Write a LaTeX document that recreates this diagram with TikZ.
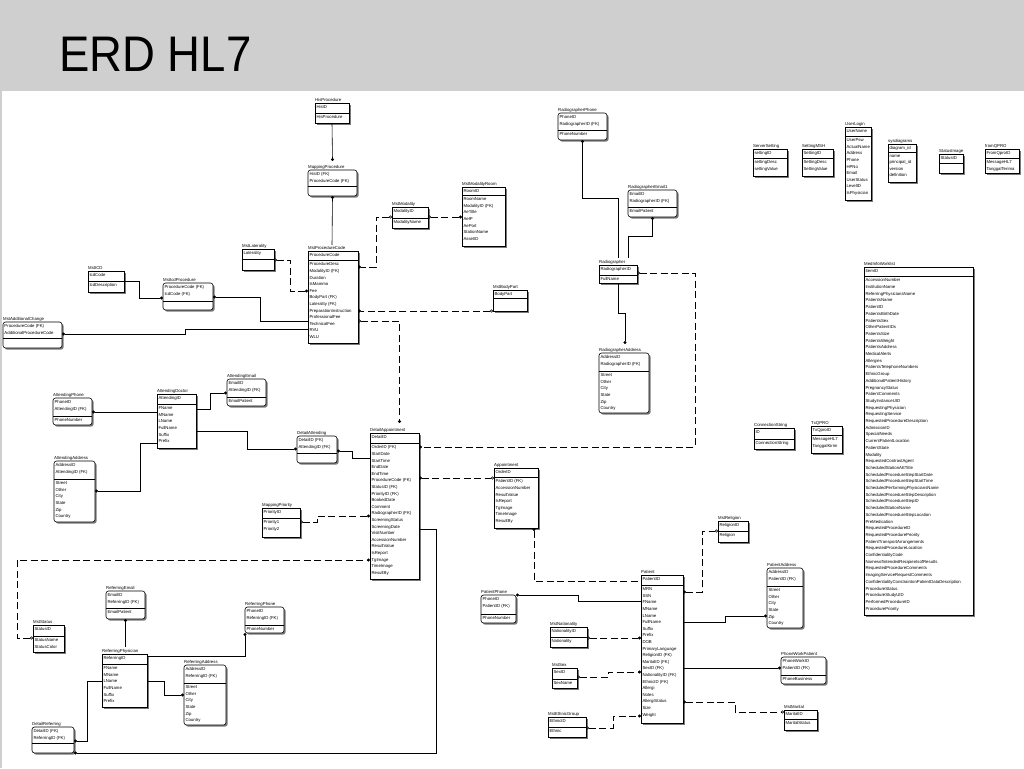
\documentclass[tikz,border=0pt]{standalone}
\usepackage{fontspec}
\setmainfont{Liberation Sans}
\usepackage{tikz}
\usetikzlibrary{calc}
\usetikzlibrary{shadows}
\usetikzlibrary{arrows.meta}
\definecolor{headgray}{RGB}{207,207,207}
\newcommand{\fieldskip}{6.6}
% entity: style, name, x, y, width, height, key height, key fields, other fields
\newcommand{\entity}[9]{%
  \node [#1, minimum width=#5pt, minimum height=#6pt] (#2) at (#3,#4) {};%
  \node [enttitle] at ($(#2.north west)+(0,-1.5)$) {#2};%
  \node [fields] at (#2.north west) {#8};%
  \draw [line width=0.6pt] ($(#2.north west)+(0,#7)$) -- ($(#2.north east)+(0,#7)$);%
  \node [fields] at ($(#2.north west)+(0,#7)$) {#9};%
}

\begin{document}
\begin{tikzpicture}[x=1pt, y=-1pt,
    ent/.style={draw, fill=white, anchor=north west, line width=0.6pt, inner sep=0pt, outer sep=0pt,
      drop shadow={shadow xshift=1.6pt, shadow yshift=-1.6pt, fill=black!65, opacity=0.8}},
    dep/.style={ent, rounded corners=2.5pt},
    enttitle/.style={anchor=base west, inner sep=0pt, font=\fontsize{4.3}{5}\selectfont},
    fields/.style={anchor=north west, inner xsep=1.3pt, inner ysep=2.5pt, align=left,
      font=\fontsize{4.3}{\fieldskip}\selectfont},
    idrel/.style={draw, line width=0.6pt},
    nrel/.style={idrel, dash pattern=on 7pt off 3.5pt},
    fdot/.tip={Circle[length=3pt]},
    hdot/.tip={Circle[open, length=3pt]}]
  % page and header
  \useasboundingbox (0,0) rectangle (1024,768);
  \fill [white] (0,0) rectangle (1024,768);
  \fill [headgray] (0,0) rectangle (1024,91);
  \fill [headgray] (0,91) rectangle (2,768);
  \node [anchor=base west, inner sep=0pt, font=\fontsize{50}{60}\selectfont] (title) at (59,71) {\scalebox{0.91}[1]{ERD HL7}};

  % Procedure entities
  \entity{ent}{HisProcedure}{315}{103}{34}{20}{10}{HisID}{HisProcedure}
  \entity{dep}{MappingProcedure}{308}{170}{49}{26}{16}{HisID (FK)\\ProcedureCode (FK)}{}
  \entity{ent}{MstProcedureCode}{308}{251}{50}{92}{9}{ProcedureCode}{ProcedureDesc\\ModalityID (FK)\\Duration\\IsMammo\\Fee\\BodyPart (FK)\\Laterality (FK)\\PreparationInstruction\\ProfessionalFee\\TechnicalFee\\RVU\\WLU}
  \entity{ent}{MstModality}{392}{207}{36}{21}{11}{ModalityID}{ModalityName}
  \entity{ent}{MstModalityRoom}{462}{187}{43}{59}{8}{RoomID}{RoomName\\ModalityID (FK)\\AeTitle\\AeIP\\AePort\\StationName\\AssetID}
  \entity{ent}{MstLaterality}{242}{249}{32}{21}{10}{Laterality}{}
  \entity{ent}{MstICD}{88}{271}{36}{21}{10}{IcdCode}{IcdDescription}
  \entity{dep}{MstIcdProcedure}{163}{283}{50}{27}{18}{ProcedureCode (FK)\\IcdCode (FK)}{}
  \entity{dep}{MstAdditionalChange}{3}{322}{59}{26}{16}{ProcedureCode (FK)\\AdditionalProcedureCode}{}
  \entity{ent}{MstBodyPart}{493}{290}{34}{21}{8}{BodyPart}{}

  % Radiographer entities
  \entity{dep}{RadiographerPhone}{558}{113}{49}{27}{17}{PhoneID\\RadiographerID (FK)}{PhoneNumber}
  \entity{dep}{RadiographerEmail1}{628}{190}{49}{27}{17}{EmailID\\RadiographerID (FK)}{EmailPatient}
  \entity{ent}{Radiographer}{599}{265}{38}{18}{10}{RadiographerID}{FullName}
  \entity{dep}{RadiographerAddress}{599}{353}{50}{60}{18}{AddressID\\RadiographerID (FK)}{Street\\Other\\City\\State\\Zip\\Country}

  % Stand-alone tables
  \entity{ent}{ServerSetting}{753}{149}{34}{27}{9}{settingID}{settingDesc\\settingValue}
  \entity{ent}{SettingMSH}{802}{149}{31}{27}{9}{SettingID}{SettingDesc\\SettingValue}
  \entity{ent}{UserLogin}{845}{127}{26}{73}{9}{UserName}{UserPsw\\ActualName\\Address\\Phone\\HPNo\\Email\\UserStatus\\LevelID\\IsPhysician}
  \entity{ent}{sysdiagrams}{888}{144}{28}{38}{8}{diagram\_id}{name\\principal\_id\\version\\definition}
  \entity{ent}{StatusImage}{939}{154}{24}{19}{9}{StatusID}{}
  \entity{ent}{fromQPRO}{985}{149}{34}{24}{9}{FromQproID}{MessageHL7\\TanggalTerima}
  \entity{ent}{ConnectionString}{754}{428}{40}{21}{11}{ID}{ConnectionString}
  \entity{ent}{TxQPRO}{811}{426}{31}{27}{9}{TxQproID}{MessageHL7\\TanggalKirim}

  % Attending entities
  \entity{dep}{AttendingPhone}{53}{398}{39}{27}{18}{PhoneID\\AttendingID (FK)}{PhoneNumber}
  \entity{dep}{AttendingAddress}{54}{461}{41}{61}{18}{AddressID\\AttendingID (FK)}{Street\\Other\\City\\State\\Zip\\Country}
  \entity{ent}{AttendingDoctor}{157}{394}{39}{54}{10}{AttendingID}{FName\\MName\\LName\\FullName\\Suffix\\Prefix}
  \entity{dep}{AttendingEmail}{227}{379}{39}{27}{18}{EmailID\\AttendingID (FK)}{EmailPatient}
  \entity{dep}{DetailAttending}{297}{436}{40}{27}{17}{DetailID (FK)\\AttendingID (FK)}{}

  % Appointment entities
  \entity{ent}{MappingPriority}{262}{508}{38}{29}{10}{PriorityID}{Priority1\\Priority2}
  \entity{ent}{DetailAppointment}{370}{433}{49}{146}{10}{DetailID}{OrderID (FK)\\StartDate\\StartTime\\EndDate\\EndTime\\ProcedureCode (FK)\\StatusID (FK)\\PriorityID (FK)\\BookedDate\\Comment\\RadiographerID (FK)\\ScreeningStatus\\ScreeningDate\\VisitNumber\\AccessionNumber\\ResultValue\\IsReport\\TgImage\\TimeImage\\ResultBy}
  \entity{ent}{Appointment}{494}{468}{44}{60}{9}{OrderID}{PatientID (FK)\\AccessionNumber\\ResultValue\\IsReport\\TgImage\\TimeImage\\ResultBy}
  \entity{ent}{MstStatus}{33}{625}{31}{27}{11}{StatusID}{StatusName\\StatusColor}

  % Referring entities
  \entity{dep}{ReferringEmail}{106}{591}{39}{28}{17}{EmailID\\ReferringID (FK)}{EmailPatient}
  \entity{ent}{ReferringPhysician}{102}{654}{45}{53}{10}{ReferringID}{FName\\MName\\LName\\FullName\\Suffix\\Prefix}
  \entity{dep}{ReferringPhone}{245}{607}{39}{26}{18}{PhoneID\\ReferringID (FK)}{PhoneNumber}
  \entity{dep}{ReferringAddress}{184}{665}{42}{60}{18}{AddressID\\ReferringID (FK)}{Street\\Other\\City\\State\\Zip\\Country}
  \entity{dep}{DetailReferring}{32}{727}{42}{26}{16}{DetailID (FK)\\ReferringID (FK)}{}

  % Patient entities
  \entity{ent}{MstReligion}{718}{521}{30}{21}{10}{ReligionID}{Religion}
  \entity{ent}{Patient}{641}{575}{42}{148}{10}{PatientID}{MRN\\SSN\\FName\\MName\\LName\\FullName\\Suffix\\Prefix\\DOB\\PrimaryLanguage\\ReligionID (FK)\\MaritalID (FK)\\SexID (FK)\\NationalityID (FK)\\EthnicID (FK)\\Allergi\\Notes\\AllergiStatus\\Size\\Weight}
  \entity{dep}{PatientAddress}{767}{568}{36}{60}{18}{AddressID\\PatientID (FK)}{Street\\Other\\City\\State\\Zip\\Country}
  \entity{dep}{PhoneWorkPatient}{781}{657}{45}{27}{18}{PhoneWorkID\\PatientID (FK)}{PhoneBusiness}
  \entity{ent}{MstMarital}{784}{710}{33}{20}{9}{MaritalID}{MaritalStatus}
  \entity{dep}{PatientPhone}{481}{595}{35}{28}{19}{PhoneID\\PatientID (FK)}{PhoneNumber}
  \entity{ent}{MstNationality}{550}{627}{37}{20}{10}{NationalityID}{Nationality}
  \entity{ent}{MstSex}{552}{668}{25}{20}{11}{SexID}{SexName}
  \entity{ent}{MstEthnicGroup}{548}{717}{38}{20}{10}{EthnicID}{Ethnic}

  % Worklist table
  \begin{scope}
    \renewcommand{\fieldskip}{6.7}
    \entity{ent}{MedInfoWorklist}{864}{267}{109}{348}{9}{ItemID}{AccessionNumber\\InstitutionName\\ReferringPhysiciansName\\PatientsName\\PatientID\\PatientsBirthDate\\PatientsSex\\OtherPatientIDs\\PatientsSize\\PatientsWeight\\PatientsAddress\\MedicalAlerts\\Allergies\\PatientsTelephoneNumbers\\EthnicGroup\\AdditionalPatientHistory\\PregnancyStatus\\PatientComments\\StudyInstanceUID\\RequestingPhysician\\RequestingService\\RequestedProcedureDescription\\AdmissionID\\SpecialNeeds\\CurrentPatientLocation\\PatientState\\Modality\\RequestedContrastAgent\\ScheduledStationAETitle\\ScheduledProcedureStepStartDate\\ScheduledProcedureStepStartTime\\ScheduledPerformingPhysiciansName\\ScheduledProcedureStepDescription\\ScheduledProcedureStepID\\ScheduledStationName\\ScheduledProcedureStepLocation\\PreMedication\\RequestedProcedureID\\RequestedProcedurePriority\\PatientTransportArrangements\\RequestedProcedureLocation\\ConfidentialityCode\\NamesofIntendedRecipientsofResults\\RequestedProcedureComments\\ImagingServiceRequestComments\\ConfidentialityConstraintonPatientDataDescription\\ProcedureStatus\\ProcedureStudyUID\\PerformedProcedureID\\ProcedurePriority}
  \end{scope}

  % Drawing relations of MstProcedureCode
  \draw [idrel, -fdot] (HisProcedure.south) -- ($(MappingProcedure.north)+(0,-9)$);
  \draw [idrel, fdot-] (MappingProcedure.south) -- ($(MstProcedureCode.north)+(-1,-6)$);
  \draw [idrel, -fdot] (MstICD.east |- 0,281) -| (139,298) -- (MstIcdProcedure.west |- 0,298);
  \draw [idrel, fdot-] (MstIcdProcedure.east |- 0,297) -| (260,321) -- (MstProcedureCode.west |- 0,321);
  \draw [idrel, fdot-] (MstAdditionalChange.east |- 0,334) -| (185,329) -- (MstProcedureCode.west |- 0,329);
  \draw [nrel, hdot-fdot] (MstLaterality.east |- 0,260) -| (290,291) -- (MstProcedureCode.west |- 0,291);
  \draw [nrel, hdot-fdot] (MstModality.west |- 0,217) -| (376,267) -- (MstProcedureCode.east |- 0,267);
  \draw [nrel, hdot-fdot] (MstModality.east |- 0,217) -- (MstModalityRoom.west |- 0,217);
  \draw [nrel, hdot-fdot] (MstBodyPart.south west) -- (MstProcedureCode.east |- MstBodyPart.south west);
  \draw [nrel, hdot-fdot] (MstProcedureCode.east |- 0,321) -| ($(DetailAppointment.north)+(5,-10)$);

  % Drawing relations of Radiographer
  \draw [idrel, fdot-] (RadiographerPhone.south) |- (618,198) -- ($(Radiographer.north)+(0,-7)$);
  \draw [idrel, fdot-] (RadiographerEmail1.south) |- (628,236) -- ($(Radiographer.north east)+(-9,-7)$);
  \draw [idrel, -fdot] (Radiographer.south) |- (625,313) -- ($(RadiographerAddress.north)+(1,-9)$);
  \draw [nrel, hdot-fdot] (Radiographer.east |- 0,273) -| (695,447) -- (DetailAppointment.east |- 0,447);

  % Drawing relations of AttendingDoctor
  \draw [idrel, -fdot] (AttendingDoctor.west |- 0,412) -- (AttendingPhone.east |- 0,412);
  \draw [idrel, -fdot] (AttendingDoctor.west |- 0,443) -| (140,491) -- (AttendingAddress.east |- 0,491);
  \draw [idrel, -fdot] (AttendingDoctor.east |- 0,409) -| (210,393) -- (AttendingEmail.west |- 0,393);
  \draw [idrel, -fdot] (AttendingDoctor.east |- 0,431) -| (247,449) -- (DetailAttending.west |- 0,449);
  \draw [idrel, fdot-] (DetailAttending.east |- 0,451) -| (352,458) -- (DetailAppointment.west |- 0,458);

  % Drawing relations of DetailAppointment
  \draw [nrel, hdot-fdot] (MappingPriority.east |- 0,522) -| (317,516) -- (DetailAppointment.west |- 0,516);
  \draw [nrel, hdot-fdot] (MstStatus.west |- 0,638) -| (17,560) -- (DetailAppointment.west |- 0,560);
  \draw [nrel, fdot-hdot] (DetailAppointment.east |- 0,478) -- (Appointment.west |- 0,478);
  \draw [nrel, fdot-] ($(Appointment.south east)+(-4,0)$) |- (Patient.west |- 0,581);
  \draw [idrel, -fdot] (DetailAppointment.east |- 0,529) -| (436,753) -- (DetailReferring.south east);

  % Drawing relations of ReferringPhysician
  \draw [idrel, -fdot] (ReferringEmail.south |- 0,647) -- (ReferringEmail.south);
  \draw [idrel, -fdot] (ReferringPhysician.east |- 0,656) -| (ReferringPhone.south west);
  \draw [idrel, -fdot] (ReferringPhysician.east |- 0,681) -| (164,695) -- (ReferringAddress.west |- 0,695);
  \draw [idrel, -fdot] (ReferringPhysician.west |- 0,681) -| (87,741) -- (DetailReferring.east |- 0,741);

  % Drawing relations of Patient
  \draw [nrel, fdot-hdot] (Patient.east |- 0,592) -| (702,531) -- (MstReligion.west |- 0,531);
  \draw [idrel, -fdot] (Patient.west |- 0,601) -| (578,595) -- (PatientPhone.east |- 0,595);
  \draw [idrel, -fdot] (Patient.east |- 0,622) -| (725,616) -- (PatientAddress.west |- 0,616);
  \draw [idrel, -fdot] (Patient.east |- 0,668) -- (PhoneWorkPatient.west |- 0,668);
  \draw [nrel, fdot-hdot] (Patient.east |- 0,702) -| (735,712) -- (MstMarital.west |- 0,712);
  \draw [nrel, hdot-fdot] (MstNationality.east |- 0,638) -- (Patient.west |- 0,638);
  \draw [nrel, hdot-fdot] (MstSex.east |- 0,677) -| (608,672) -- (Patient.west |- 0,672);
  \draw [nrel, hdot-fdot] (MstEthnicGroup.east |- 0,728) -| (613,716) -- (Patient.west |- 0,716);
\end{tikzpicture}
\end{document}
